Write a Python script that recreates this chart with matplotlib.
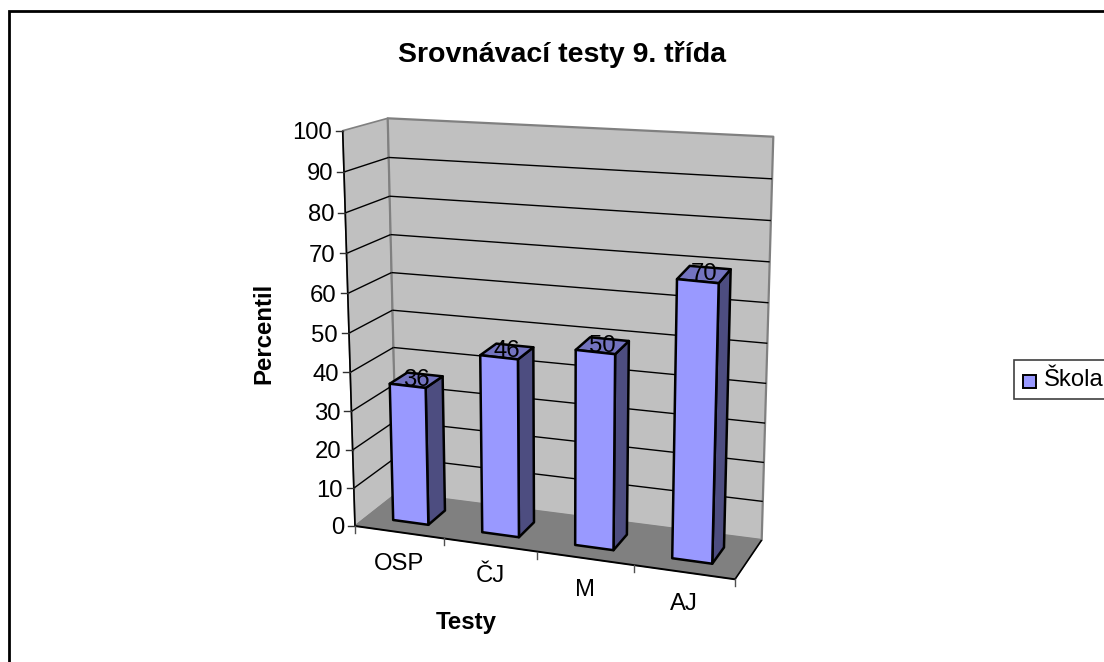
"""Srovnavaci testy: 3D column chart drawn with a small perspective projection."""
import numpy as np
import matplotlib
matplotlib.use("Agg")
import matplotlib.pyplot as plt
from matplotlib.patches import Polygon, Rectangle

plt.rcParams["font.family"] = ["Liberation Sans", "DejaVu Sans"]

categories = ["OSP", "ČJ", "M", "AJ"]
values = [36, 46, 50, 70]
value_ticks = list(range(0, 101, 10))
title = "Srovnávací testy 9. třída"
xlabel = "Testy"
ylabel = "Percentil"
series_name = "Škola"

# pixel corners of the 3D box, keyed (right, top, back)
CORNERS = {
    (0, 0, 0): (355.0, 526.0), (0, 1, 0): (342.7, 130.7),
    (0, 0, 1): (397.0, 493.0), (0, 1, 1): (387.7, 118.3),
    (1, 0, 0): (735.0, 579.3), (1, 1, 0): (746.0, 169.0),
    (1, 0, 1): (761.7, 540.0), (1, 1, 1): (773.3, 136.7),
}
R_U, R_V = 1.09, 1.05
BAR_W, BAR_D = 0.10, 0.42
FRONT, SIDE, TOP = "#9999ff", "#4d4d80", "#7373bf"
WALL, FLOOR = "#c0c0c0", "#808080"
TEXT_SIZE = 17.2


def warp(t, r):
    return t / (t + r * (1 - t))


def proj(u, val, w):
    """u along categories 0-1, val in percent, w depth 0-1 -> pixel."""
    a, b, c = warp(u, R_U), warp(val / 100, R_V), w
    p = np.zeros(2)
    for (i, j, k), xy in CORNERS.items():
        p += np.array(xy) * (a if i else 1 - a) * (b if j else 1 - b) * (c if k else 1 - c)
    return p


def face(ax, pts, color, edge="black", lw=1.8, z=2):
    ax.add_patch(Polygon([proj(*q) for q in pts], closed=True, facecolor=color,
                         edgecolor=edge, linewidth=lw, joinstyle="round", zorder=z))


def seg(ax, a, b, color="black", lw=1.0, z=1.5):
    pa, pb = proj(*a), proj(*b)
    ax.plot([pa[0], pb[0]], [pa[1], pb[1]], color=color, lw=lw, zorder=z, solid_capstyle="butt")


fig = plt.figure(figsize=(11.04, 6.62), dpi=100)
ax = fig.add_axes([0, 0, 1, 1])
ax.set_xlim(0, 1104)
ax.set_ylim(662, 0)
ax.axis("off")

# chart area frame, only top and left survive in the source
ax.plot([9, 9, 1104], [662, 11, 11], color="black", lw=2.0, solid_joinstyle="miter")

# walls and floor
face(ax, [(0, 0, 0), (0, 100, 0), (0, 100, 1), (0, 0, 1)], WALL, edge=FLOOR, lw=1.2, z=1)
face(ax, [(0, 0, 1), (0, 100, 1), (1, 100, 1), (1, 0, 1)], WALL, edge=FLOOR, lw=1.6, z=1)
face(ax, [(0, 0, 0), (1, 0, 0), (1, 0, 1), (0, 0, 1)], FLOOR, edge=FLOOR, lw=0.8, z=1.2)

for v in value_ticks[1:-1]:
    seg(ax, (0, v, 0), (0, v, 1))
    seg(ax, (0, v, 1), (1, v, 1))

# axes
seg(ax, (0, 0, 0), (0, 100, 0), lw=1.2, z=1.8)
seg(ax, (0, 0, 0), (1, 0, 0), lw=1.4, z=1.8)
seg(ax, (1, 0, 0), (1, 0, 1), lw=1.2, z=1.8)
for v in value_ticks:
    x, y = proj(0, v, 0)
    ax.plot([x - 7, x], [y, y], color="#303030", lw=1.0, zorder=1.8)
    ax.text(x - 11, y, str(v), ha="right", va="center_baseline", fontsize=TEXT_SIZE, color="black")
for i in range(len(categories) + 1):
    x, y = proj(i / len(categories), 0, 0)
    ax.plot([x, x], [y, y + 7], color="#505050", lw=1.0, zorder=1.8)

# bars, left to right
for i, (cat, val) in enumerate(zip(categories, values)):
    uc = (i + 0.5) / len(categories)
    u0, u1 = uc - BAR_W / 2, uc + BAR_W / 2
    w0, w1 = 0.5 - BAR_D / 2, 0.5 + BAR_D / 2
    face(ax, [(u1, 0, w0), (u1, val, w0), (u1, val, w1), (u1, 0, w1)], SIDE, z=3 + i)
    face(ax, [(u0, val, w0), (u1, val, w0), (u1, val, w1), (u0, val, w1)], TOP, z=3 + i)
    face(ax, [(u0, 0, w0), (u1, 0, w0), (u1, val, w0), (u0, val, w0)], FRONT, z=3 + i)
    x, y = proj(uc, val, 0.5)
    ax.text(x, y, str(val), ha="center", va="center", fontsize=TEXT_SIZE, color="black", zorder=10)
    x, y = proj(uc, 0, 0)
    ax.text(x, y + 31.5, cat, ha="center", va="center", fontsize=TEXT_SIZE, color="black")

ax.text(562, 55, title, ha="center", va="center", fontsize=20.5, fontweight="bold")
ax.text(466, 623, xlabel, ha="center", va="center", fontsize=17.3, fontweight="bold")
ax.text(264, 333, ylabel, ha="center", va="center", rotation=90, fontsize=17.3, fontweight="bold")

# legend, runs off the right edge like the source
ax.add_patch(Rectangle((1013.5, 360), 120, 39, facecolor="white", edgecolor="#404040", lw=1.2, zorder=2))
ax.add_patch(Rectangle((1023, 375), 13, 13, facecolor=FRONT, edgecolor="black", lw=1.4, zorder=3))
ax.text(1044, 379.5, series_name, ha="left", va="center", fontsize=TEXT_SIZE, zorder=3)

fig.savefig("out.png", dpi=100)
